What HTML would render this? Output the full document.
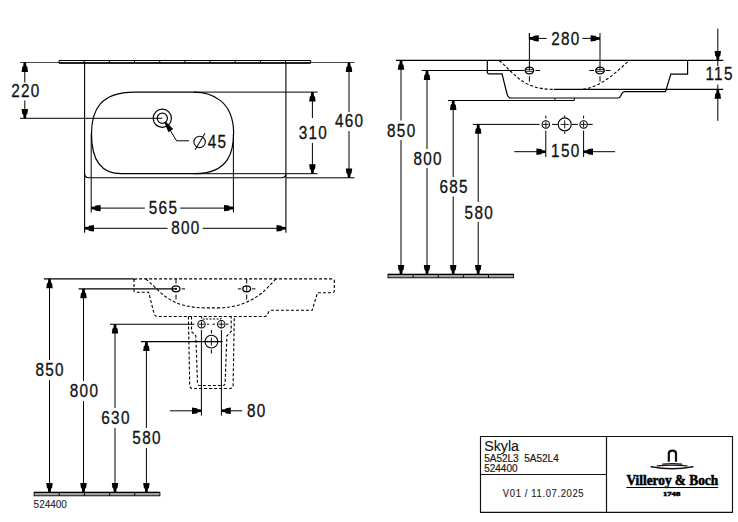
<!DOCTYPE html>
<html><head><meta charset="utf-8"><style>
html,body{margin:0;padding:0;background:#fff;width:738px;height:522px;overflow:hidden}
svg{display:block}
</style></head><body>
<svg width="738" height="522" viewBox="0 0 738 522">
<rect width="738" height="522" fill="#fff"/>
<line x1="20" y1="62.5" x2="59" y2="62.5" stroke="#333" stroke-width="0.9"/>
<line x1="310.7" y1="62.5" x2="354.5" y2="62.5" stroke="#333" stroke-width="0.9"/>
<path d="M59.0,60.5 H310.7 V62.9 H59.0 Z" stroke="#000" stroke-width="1" fill="none"/>
<line x1="59" y1="63" x2="310.7" y2="63" stroke="#000" stroke-width="1.7"/>
<line x1="84.17" y1="60.5" x2="84.17" y2="63" stroke="#000" stroke-width="1"/>
<line x1="109.34" y1="60.5" x2="109.34" y2="63" stroke="#000" stroke-width="1"/>
<line x1="134.51" y1="60.5" x2="134.51" y2="63" stroke="#000" stroke-width="1"/>
<line x1="159.68" y1="60.5" x2="159.68" y2="63" stroke="#000" stroke-width="1"/>
<line x1="184.85" y1="60.5" x2="184.85" y2="63" stroke="#000" stroke-width="1"/>
<line x1="210.02" y1="60.5" x2="210.02" y2="63" stroke="#000" stroke-width="1"/>
<line x1="235.19" y1="60.5" x2="235.19" y2="63" stroke="#000" stroke-width="1"/>
<line x1="260.36" y1="60.5" x2="260.36" y2="63" stroke="#000" stroke-width="1"/>
<line x1="285.53" y1="60.5" x2="285.53" y2="63" stroke="#000" stroke-width="1"/>
<line x1="84.6" y1="63" x2="84.6" y2="232.8" stroke="#000" stroke-width="1.1"/>
<line x1="285.9" y1="63" x2="285.9" y2="232.8" stroke="#000" stroke-width="1.1"/>
<path d="M84.6,173.5 Q84.6,177.8 89,177.8 H281.5 Q285.9,177.8 285.9,173.5" stroke="#000" stroke-width="1.1" fill="none"/>
<line x1="285.9" y1="177.8" x2="354.5" y2="177.8" stroke="#000" stroke-width="1"/>
<path d="M134.5,92.1 H193.6 C212.0,92.1 233.6,101.11999999999999 233.6,133.1 V132.7 C233.6,149.1 230.48,173.7 194.6,173.7 H121.5 C98.1,173.7 91.5,156.32 91.5,134.2 V133.6 C91.5,110.35999999999999 100.1,92.1 134.5,92.1 Z" stroke="#000" stroke-width="1.2" fill="none"/>
<line x1="193.6" y1="92.1" x2="317.6" y2="92.1" stroke="#000" stroke-width="1"/>
<line x1="193.6" y1="173.7" x2="317.6" y2="173.7" stroke="#000" stroke-width="1"/>
<line x1="91.2" y1="134" x2="91.2" y2="212.6" stroke="#000" stroke-width="1"/>
<line x1="233.4" y1="134" x2="233.4" y2="212.6" stroke="#000" stroke-width="1"/>
<path d="M171.4,118.3 A9.1,9.1 0 1 1 153.20000000000002,118.3 A9.1,9.1 0 1 1 171.4,118.3" stroke="#000" stroke-width="1.2" fill="none"/>
<path d="M167.4,118.3 A5.1,5.1 0 1 1 157.20000000000002,118.3 A5.1,5.1 0 1 1 167.4,118.3" stroke="#000" stroke-width="1.2" fill="none"/>
<line x1="20" y1="118.3" x2="162.3" y2="118.3" stroke="#000" stroke-width="1"/>
<line x1="24.8" y1="62.5" x2="24.8" y2="82.5" stroke="#000" stroke-width="1"/>
<line x1="24.8" y1="100.5" x2="24.8" y2="118.3" stroke="#000" stroke-width="1"/>
<polygon points="23.55,62.5 23.25,66.1 22.2,67.1 21.6,71.9 28,71.9 27.4,67.1 26.35,66.1 26.05,62.5" fill="#000"/>
<polygon points="23.55,118.3 23.25,114.7 22.2,113.7 21.6,108.9 28,108.9 27.4,113.7 26.35,114.7 26.05,118.3" fill="#000"/>
<text x="25.9" y="96.8" font-size="17.6" text-anchor="middle" font-family="Liberation Sans" font-weight="normal" fill="#111" stroke="#111" stroke-width="0.3" letter-spacing="1.5" transform="translate(25.9,0) scale(0.87,1) translate(-25.9,0)">220</text>
<path d="M170,130 L176.6,140.8 H189" stroke="#000" stroke-width="1" fill="none"/>
<polygon points="164.3,122.2 165.6,121.4 173.2,128.9 168.4,132.3" fill="#000"/>
<circle cx="199.6" cy="141.9" r="5.7" stroke="#111" stroke-width="1.15" fill="none"/>
<line x1="195.2" y1="149.7" x2="205" y2="133.3" stroke="#111" stroke-width="1.1"/>
<text x="217.55" y="147.7" font-size="17.6" text-anchor="middle" font-family="Liberation Sans" font-weight="normal" fill="#111" stroke="#111" stroke-width="0.3" letter-spacing="1.5" transform="translate(217.55,0) scale(0.87,1) translate(-217.55,0)">45</text>
<line x1="312.4" y1="92.1" x2="312.4" y2="118" stroke="#000" stroke-width="1"/>
<line x1="312.4" y1="143" x2="312.4" y2="173.7" stroke="#000" stroke-width="1"/>
<polygon points="311.15,92.1 310.85,95.7 309.8,96.7 309.2,101.5 315.6,101.5 315,96.7 313.95,95.7 313.65,92.1" fill="#000"/>
<polygon points="311.15,173.7 310.85,170.1 309.8,169.1 309.2,164.3 315.6,164.3 315,169.1 313.95,170.1 313.65,173.7" fill="#000"/>
<text x="313.45" y="138.8" font-size="17.6" text-anchor="middle" font-family="Liberation Sans" font-weight="normal" fill="#111" stroke="#111" stroke-width="0.3" letter-spacing="1.5" transform="translate(313.45,0) scale(0.87,1) translate(-313.45,0)">310</text>
<line x1="349" y1="62.5" x2="349" y2="112" stroke="#000" stroke-width="1"/>
<line x1="349" y1="131" x2="349" y2="177.8" stroke="#000" stroke-width="1"/>
<polygon points="347.75,62.5 347.45,66.1 346.4,67.1 345.8,71.9 352.2,71.9 351.6,67.1 350.55,66.1 350.25,62.5" fill="#000"/>
<polygon points="347.75,177.8 347.45,174.2 346.4,173.2 345.8,168.4 352.2,168.4 351.6,173.2 350.55,174.2 350.25,177.8" fill="#000"/>
<text x="349.65" y="126.7" font-size="17.6" text-anchor="middle" font-family="Liberation Sans" font-weight="normal" fill="#111" stroke="#111" stroke-width="0.3" letter-spacing="1.5" transform="translate(349.65,0) scale(0.87,1) translate(-349.65,0)">460</text>
<line x1="91.2" y1="208.1" x2="144.8" y2="208.1" stroke="#000" stroke-width="1"/>
<line x1="180.2" y1="208.1" x2="233.4" y2="208.1" stroke="#000" stroke-width="1"/>
<polygon points="91.2,206.85 94.8,206.55 95.8,205.5 100.6,204.9 100.6,211.3 95.8,210.7 94.8,209.65 91.2,209.35" fill="#000"/>
<polygon points="233.4,206.85 229.8,206.55 228.8,205.5 224,204.9 224,211.3 228.8,210.7 229.8,209.65 233.4,209.35" fill="#000"/>
<text x="163.5" y="213.7" font-size="17.6" text-anchor="middle" font-family="Liberation Sans" font-weight="normal" fill="#111" stroke="#111" stroke-width="0.3" letter-spacing="1.5" transform="translate(163.5,0) scale(0.87,1) translate(-163.5,0)">565</text>
<line x1="84.6" y1="228.3" x2="167.6" y2="228.3" stroke="#000" stroke-width="1"/>
<line x1="202.6" y1="228.3" x2="285.9" y2="228.3" stroke="#000" stroke-width="1"/>
<polygon points="84.6,227.05 88.2,226.75 89.2,225.7 94,225.1 94,231.5 89.2,230.9 88.2,229.85 84.6,229.55" fill="#000"/>
<polygon points="285.9,227.05 282.3,226.75 281.3,225.7 276.5,225.1 276.5,231.5 281.3,230.9 282.3,229.85 285.9,229.55" fill="#000"/>
<text x="185.9" y="234.5" font-size="17.6" text-anchor="middle" font-family="Liberation Sans" font-weight="normal" fill="#111" stroke="#111" stroke-width="0.3" letter-spacing="1.5" transform="translate(185.9,0) scale(0.87,1) translate(-185.9,0)">800</text>
<line x1="395.9" y1="60.4" x2="723.2" y2="60.4" stroke="#000" stroke-width="1.1"/>
<line x1="421.7" y1="70.5" x2="524.2" y2="70.5" stroke="#000" stroke-width="1"/>
<line x1="535.5" y1="70.5" x2="540" y2="70.5" stroke="#000" stroke-width="1"/>
<line x1="529.4" y1="33" x2="529.4" y2="70.5" stroke="#000" stroke-width="1"/>
<line x1="529.4" y1="76.2" x2="529.4" y2="81.7" stroke="#000" stroke-width="1"/>
<ellipse cx="529.4" cy="70.5" rx="4.2" ry="3.35" stroke="#000" stroke-width="1.4" fill="none"/>
<line x1="525.2" y1="69.6" x2="533.6" y2="69.6" stroke="#000" stroke-width="0.8"/>
<line x1="525.2" y1="71.4" x2="533.6" y2="71.4" stroke="#000" stroke-width="0.8"/>
<line x1="600" y1="33" x2="600" y2="70.5" stroke="#000" stroke-width="1"/>
<line x1="600" y1="76.2" x2="600" y2="81.7" stroke="#000" stroke-width="1"/>
<ellipse cx="600" cy="70.5" rx="4.2" ry="3.35" stroke="#000" stroke-width="1.4" fill="none"/>
<line x1="595.8" y1="69.6" x2="604.2" y2="69.6" stroke="#000" stroke-width="0.8"/>
<line x1="595.8" y1="71.4" x2="604.2" y2="71.4" stroke="#000" stroke-width="0.8"/>
<line x1="589.3" y1="70.5" x2="594" y2="70.5" stroke="#000" stroke-width="1"/>
<line x1="605.7" y1="70.5" x2="610.6" y2="70.5" stroke="#000" stroke-width="1"/>
<path d="M487.3,60.4 V72 Q487.3,73.8 489.3,73.8 H502 L507.3,95 Q508.3,98 511,98 H618 Q619.8,98 620.8,95.8 L622,93.4 Q623,91.7 625,91.7 H665.5 L670.8,74.2 H687.6 V60.4" stroke="#000" stroke-width="1.2" fill="none"/>
<line x1="447.9" y1="100.5" x2="574.3" y2="100.5" stroke="#000" stroke-width="1.1"/>
<line x1="554.9" y1="98" x2="554.9" y2="100.5" stroke="#000" stroke-width="1"/>
<line x1="574.3" y1="98" x2="574.3" y2="100.5" stroke="#000" stroke-width="1"/>
<path d="M499.2,60.5 C514,72.5 521.5,89.4 554,89.4" stroke="#000" stroke-width="1.1" fill="none" stroke-dasharray="3,2"/>
<path d="M583,89.2 C604,87 623,65 629.5,60.4" stroke="#000" stroke-width="1.1" fill="none" stroke-dasharray="3,2"/>
<line x1="553.8" y1="89.4" x2="723.2" y2="89.4" stroke="#000" stroke-width="1.1"/>
<line x1="529.4" y1="33" x2="529.4" y2="40" stroke="#000" stroke-width="1"/>
<line x1="529.4" y1="38.4" x2="546.6" y2="38.4" stroke="#000" stroke-width="1"/>
<line x1="582.4" y1="38.4" x2="600" y2="38.4" stroke="#000" stroke-width="1"/>
<polygon points="529.4,37.15 533,36.85 534,35.8 538.8,35.2 538.8,41.6 534,41 533,39.95 529.4,39.65" fill="#000"/>
<polygon points="600,37.15 596.4,36.85 595.4,35.8 590.6,35.2 590.6,41.6 595.4,41 596.4,39.95 600,39.65" fill="#000"/>
<text x="565.95" y="44.7" font-size="17.6" text-anchor="middle" font-family="Liberation Sans" font-weight="normal" fill="#111" stroke="#111" stroke-width="0.3" letter-spacing="1.5" transform="translate(565.95,0) scale(0.87,1) translate(-565.95,0)">280</text>
<line x1="717.8" y1="28.7" x2="717.8" y2="60.4" stroke="#000" stroke-width="1"/>
<polygon points="716.55,60.4 716.25,56.8 715.2,55.8 714.6,51 721,51 720.4,55.8 719.35,56.8 719.05,60.4" fill="#000"/>
<line x1="717.8" y1="89.4" x2="717.8" y2="120.8" stroke="#000" stroke-width="1"/>
<polygon points="716.55,89.4 716.25,93 715.2,94 714.6,98.8 721,98.8 720.4,94 719.35,93 719.05,89.4" fill="#000"/>
<line x1="717.8" y1="60.4" x2="717.8" y2="66" stroke="#000" stroke-width="1"/>
<line x1="717.8" y1="84.6" x2="717.8" y2="89.4" stroke="#000" stroke-width="1"/>
<text x="719.6" y="80.2" font-size="17.6" text-anchor="middle" font-family="Liberation Sans" font-weight="normal" fill="#111" stroke="#111" stroke-width="0.3" letter-spacing="1.5" transform="translate(719.6,0) scale(0.87,1) translate(-719.6,0)">115</text>
<line x1="401" y1="60.4" x2="401" y2="120.5" stroke="#000" stroke-width="1"/>
<line x1="401" y1="140" x2="401" y2="274.3" stroke="#000" stroke-width="1"/>
<polygon points="399.75,60.4 399.45,64 398.4,65 397.8,69.8 404.2,69.8 403.6,65 402.55,64 402.25,60.4" fill="#000"/>
<polygon points="399.75,274.3 399.45,270.7 398.4,269.7 397.8,264.9 404.2,264.9 403.6,269.7 402.55,270.7 402.25,274.3" fill="#000"/>
<text x="401.75" y="136.8" font-size="17.6" text-anchor="middle" font-family="Liberation Sans" font-weight="normal" fill="#111" stroke="#111" stroke-width="0.3" letter-spacing="1.5" transform="translate(401.75,0) scale(0.87,1) translate(-401.75,0)">850</text>
<line x1="427" y1="70.5" x2="427" y2="149" stroke="#000" stroke-width="1"/>
<line x1="427" y1="168" x2="427" y2="274.3" stroke="#000" stroke-width="1"/>
<polygon points="425.75,70.5 425.45,74.1 424.4,75.1 423.8,79.9 430.2,79.9 429.6,75.1 428.55,74.1 428.25,70.5" fill="#000"/>
<polygon points="425.75,274.3 425.45,270.7 424.4,269.7 423.8,264.9 430.2,264.9 429.6,269.7 428.55,270.7 428.25,274.3" fill="#000"/>
<text x="428.15" y="164.9" font-size="17.6" text-anchor="middle" font-family="Liberation Sans" font-weight="normal" fill="#111" stroke="#111" stroke-width="0.3" letter-spacing="1.5" transform="translate(428.15,0) scale(0.87,1) translate(-428.15,0)">800</text>
<line x1="453.2" y1="100.5" x2="453.2" y2="177" stroke="#000" stroke-width="1"/>
<line x1="453.2" y1="196.5" x2="453.2" y2="274.3" stroke="#000" stroke-width="1"/>
<polygon points="451.95,100.5 451.65,104.1 450.6,105.1 450,109.9 456.4,109.9 455.8,105.1 454.75,104.1 454.45,100.5" fill="#000"/>
<polygon points="451.95,274.3 451.65,270.7 450.6,269.7 450,264.9 456.4,264.9 455.8,269.7 454.75,270.7 454.45,274.3" fill="#000"/>
<text x="454.15" y="193" font-size="17.6" text-anchor="middle" font-family="Liberation Sans" font-weight="normal" fill="#111" stroke="#111" stroke-width="0.3" letter-spacing="1.5" transform="translate(454.15,0) scale(0.87,1) translate(-454.15,0)">685</text>
<line x1="478.2" y1="124.4" x2="478.2" y2="202" stroke="#000" stroke-width="1"/>
<line x1="478.2" y1="222" x2="478.2" y2="274.3" stroke="#000" stroke-width="1"/>
<polygon points="476.95,124.4 476.65,128 475.6,129 475,133.8 481.4,133.8 480.8,129 479.75,128 479.45,124.4" fill="#000"/>
<polygon points="476.95,274.3 476.65,270.7 475.6,269.7 475,264.9 481.4,264.9 480.8,269.7 479.75,270.7 479.45,274.3" fill="#000"/>
<text x="479.35" y="218.6" font-size="17.6" text-anchor="middle" font-family="Liberation Sans" font-weight="normal" fill="#111" stroke="#111" stroke-width="0.3" letter-spacing="1.5" transform="translate(479.35,0) scale(0.87,1) translate(-479.35,0)">580</text>
<rect x="388" y="274.4" width="125.6" height="3.4" fill="#a0a0a0" stroke="#000" stroke-width="0.9"/>
<line x1="388" y1="274.4" x2="513.6" y2="274.4" stroke="#000" stroke-width="1.2"/>
<line x1="413.12" y1="274.4" x2="413.12" y2="277.8" stroke="#000" stroke-width="1"/>
<line x1="438.24" y1="274.4" x2="438.24" y2="277.8" stroke="#000" stroke-width="1"/>
<line x1="463.36" y1="274.4" x2="463.36" y2="277.8" stroke="#000" stroke-width="1"/>
<line x1="488.48" y1="274.4" x2="488.48" y2="277.8" stroke="#000" stroke-width="1"/>
<line x1="472.8" y1="124.4" x2="539.6" y2="124.4" stroke="#000" stroke-width="1"/>
<circle cx="545.8" cy="124.4" r="3.7" stroke="#000" stroke-width="1.1" fill="none"/>
<line x1="543.1" y1="124.4" x2="548.5" y2="124.4" stroke="#000" stroke-width="0.9"/>
<line x1="545.8" y1="121.7" x2="545.8" y2="127.1" stroke="#000" stroke-width="0.9"/>
<circle cx="583.6" cy="124.4" r="3.7" stroke="#000" stroke-width="1.1" fill="none"/>
<line x1="580.9" y1="124.4" x2="586.3" y2="124.4" stroke="#000" stroke-width="0.9"/>
<line x1="583.6" y1="121.7" x2="583.6" y2="127.1" stroke="#000" stroke-width="0.9"/>
<circle cx="564.7" cy="124.4" r="6.5" stroke="#000" stroke-width="1.1" fill="none"/>
<line x1="560.67" y1="124.4" x2="568.73" y2="124.4" stroke="#000" stroke-width="0.9"/>
<line x1="564.7" y1="120.37" x2="564.7" y2="128.43" stroke="#000" stroke-width="0.9"/>
<line x1="552" y1="124.4" x2="557.8" y2="124.4" stroke="#000" stroke-width="1"/>
<line x1="571.7" y1="124.4" x2="577.9" y2="124.4" stroke="#000" stroke-width="1"/>
<line x1="587.5" y1="124.4" x2="592.7" y2="124.4" stroke="#000" stroke-width="1"/>
<line x1="545.8" y1="115.7" x2="545.8" y2="118.5" stroke="#000" stroke-width="1"/>
<line x1="583.6" y1="115.7" x2="583.6" y2="118.5" stroke="#000" stroke-width="1"/>
<line x1="564.7" y1="115.5" x2="564.7" y2="117.5" stroke="#000" stroke-width="1"/>
<line x1="564.7" y1="131.5" x2="564.7" y2="133.8" stroke="#000" stroke-width="1"/>
<line x1="545.8" y1="130.6" x2="545.8" y2="157" stroke="#000" stroke-width="1"/>
<line x1="583.6" y1="130.6" x2="583.6" y2="157" stroke="#000" stroke-width="1"/>
<line x1="514.2" y1="151.7" x2="545.8" y2="151.7" stroke="#000" stroke-width="1"/>
<line x1="583.6" y1="151.7" x2="615.1" y2="151.7" stroke="#000" stroke-width="1"/>
<polygon points="545.8,150.45 542.2,150.15 541.2,149.1 536.4,148.5 536.4,154.9 541.2,154.3 542.2,153.25 545.8,152.95" fill="#000"/>
<polygon points="583.6,150.45 587.2,150.15 588.2,149.1 593,148.5 593,154.9 588.2,154.3 587.2,153.25 583.6,152.95" fill="#000"/>
<text x="565.85" y="157.4" font-size="17.6" text-anchor="middle" font-family="Liberation Sans" font-weight="normal" fill="#111" stroke="#111" stroke-width="0.3" letter-spacing="1.5" transform="translate(565.85,0) scale(0.87,1) translate(-565.85,0)">150</text>
<g transform="translate(-353.3,218.5)">
<path d="M487.3,60.4 V72 Q487.3,73.8 489.3,73.8 H502 L507.3,95 Q508.3,98 511,98 H618 Q619.8,98 620.8,95.8 L622,93.4 Q623,91.7 625,91.7 H665.5 L670.8,74.2 H685.6 Q687.6,74.2 687.6,72.2 V62.4 Q687.6,60.4 685.6,60.4 H489.3 Q487.3,60.4 487.3,62.4" stroke="#000" stroke-width="1.1" fill="none" stroke-dasharray="3,2"/>
<path d="M499.2,60.5 C514,72.5 521.5,89.4 560,89.4 H570 C610,89.4 623,65 629.5,60.4" stroke="#000" stroke-width="1.1" fill="none" stroke-dasharray="3,2"/>
<path d="M554.9,98 V100.5 H574.3 V98" stroke="#000" stroke-width="1" fill="none" stroke-dasharray="2,1.5"/>
</g>
<line x1="43.9" y1="278.9" x2="134" y2="278.9" stroke="#000" stroke-width="1.1"/>
<line x1="78.6" y1="288.9" x2="176" y2="288.9" stroke="#000" stroke-width="1.1"/>
<line x1="176" y1="279" x2="176" y2="283.5" stroke="#000" stroke-width="1"/>
<line x1="176" y1="294.5" x2="176" y2="299.5" stroke="#000" stroke-width="1"/>
<ellipse cx="176" cy="288.8" rx="3.9" ry="3.0" stroke="#000" stroke-width="1.3" fill="none"/>
<circle cx="176" cy="288.8" r="1.1" fill="#000"/>
<line x1="246.7" y1="279" x2="246.7" y2="283.5" stroke="#000" stroke-width="1"/>
<line x1="246.7" y1="294.5" x2="246.7" y2="299.5" stroke="#000" stroke-width="1"/>
<ellipse cx="246.7" cy="288.8" rx="3.9" ry="3.0" stroke="#000" stroke-width="1.3" fill="none"/>
<line x1="246.7" y1="285.8" x2="246.7" y2="291.8" stroke="#000" stroke-width="0.9"/>
<line x1="181.7" y1="288.9" x2="185" y2="288.9" stroke="#000" stroke-width="1"/>
<line x1="237.9" y1="288.9" x2="241.3" y2="288.9" stroke="#000" stroke-width="1"/>
<line x1="252" y1="288.9" x2="255.5" y2="288.9" stroke="#000" stroke-width="1"/>
<path d="M188.4,316.6 L189.7,385.5 Q189.9,388.5 192.7,388.5 H230 Q232.9,388.5 233.1,385.5 L234.3,316.6" stroke="#000" stroke-width="1.1" fill="none" stroke-dasharray="3,2"/>
<path d="M191.5,316.6 V331.5 L195.8,335.8 L197.5,383 Q197.6,385.5 200,385.5 H222.6 Q225,385.5 225.1,383 L226.9,335.8 L231.2,331.5 V316.6" stroke="#000" stroke-width="1.1" fill="none" stroke-dasharray="3,2"/>
<line x1="110" y1="324.2" x2="194.4" y2="324.2" stroke="#000" stroke-width="1.1"/>
<line x1="140.9" y1="341.6" x2="222.6" y2="341.6" stroke="#000" stroke-width="1.1"/>
<circle cx="201.5" cy="324.2" r="3.7" stroke="#000" stroke-width="1.1" fill="none"/>
<line x1="198.8" y1="324.2" x2="204.2" y2="324.2" stroke="#000" stroke-width="0.9"/>
<line x1="201.5" y1="321.5" x2="201.5" y2="326.9" stroke="#000" stroke-width="0.9"/>
<circle cx="221.3" cy="324.2" r="3.7" stroke="#000" stroke-width="1.1" fill="none"/>
<line x1="218.6" y1="324.2" x2="224" y2="324.2" stroke="#000" stroke-width="0.9"/>
<line x1="221.3" y1="321.5" x2="221.3" y2="326.9" stroke="#000" stroke-width="0.9"/>
<line x1="207" y1="324.2" x2="209" y2="324.2" stroke="#000" stroke-width="1"/>
<line x1="212.5" y1="324.2" x2="215" y2="324.2" stroke="#000" stroke-width="1"/>
<line x1="226" y1="324.2" x2="228.5" y2="324.2" stroke="#000" stroke-width="1"/>
<circle cx="211.4" cy="341.6" r="6.4" stroke="#000" stroke-width="1.1" fill="none"/>
<line x1="207.43" y1="341.6" x2="215.37" y2="341.6" stroke="#000" stroke-width="0.9"/>
<line x1="211.4" y1="337.63" x2="211.4" y2="345.57" stroke="#000" stroke-width="0.9"/>
<line x1="211.4" y1="330" x2="211.4" y2="333.5" stroke="#000" stroke-width="1"/>
<line x1="211.4" y1="349.5" x2="211.4" y2="353.5" stroke="#000" stroke-width="1"/>
<line x1="201.4" y1="330" x2="201.4" y2="415.7" stroke="#000" stroke-width="1"/>
<line x1="221.4" y1="330" x2="221.4" y2="415.7" stroke="#000" stroke-width="1"/>
<line x1="169.8" y1="410.8" x2="201.4" y2="410.8" stroke="#000" stroke-width="1"/>
<line x1="221.4" y1="410.8" x2="242.2" y2="410.8" stroke="#000" stroke-width="1"/>
<polygon points="201.4,409.55 197.8,409.25 196.8,408.2 192,407.6 192,414 196.8,413.4 197.8,412.35 201.4,412.05" fill="#000"/>
<polygon points="221.4,409.55 225,409.25 226,408.2 230.8,407.6 230.8,414 226,413.4 225,412.35 221.4,412.05" fill="#000"/>
<text x="256.7" y="417.4" font-size="17.6" text-anchor="middle" font-family="Liberation Sans" font-weight="normal" fill="#111" stroke="#111" stroke-width="0.3" letter-spacing="1.5" transform="translate(256.7,0) scale(0.87,1) translate(-256.7,0)">80</text>
<line x1="49.5" y1="278.9" x2="49.5" y2="360" stroke="#000" stroke-width="1"/>
<line x1="49.5" y1="380" x2="49.5" y2="492.4" stroke="#000" stroke-width="1"/>
<polygon points="48.25,278.9 47.95,282.5 46.9,283.5 46.3,288.3 52.7,288.3 52.1,283.5 51.05,282.5 50.75,278.9" fill="#000"/>
<polygon points="48.25,492.4 47.95,488.8 46.9,487.8 46.3,483 52.7,483 52.1,487.8 51.05,488.8 50.75,492.4" fill="#000"/>
<text x="50.2" y="376.1" font-size="17.6" text-anchor="middle" font-family="Liberation Sans" font-weight="normal" fill="#111" stroke="#111" stroke-width="0.3" letter-spacing="1.5" transform="translate(50.2,0) scale(0.87,1) translate(-50.2,0)">850</text>
<line x1="83.5" y1="288.9" x2="83.5" y2="381" stroke="#000" stroke-width="1"/>
<line x1="83.5" y1="401" x2="83.5" y2="492.4" stroke="#000" stroke-width="1"/>
<polygon points="82.25,288.9 81.95,292.5 80.9,293.5 80.3,298.3 86.7,298.3 86.1,293.5 85.05,292.5 84.75,288.9" fill="#000"/>
<polygon points="82.25,492.4 81.95,488.8 80.9,487.8 80.3,483 86.7,483 86.1,487.8 85.05,488.8 84.75,492.4" fill="#000"/>
<text x="84.5" y="397.3" font-size="17.6" text-anchor="middle" font-family="Liberation Sans" font-weight="normal" fill="#111" stroke="#111" stroke-width="0.3" letter-spacing="1.5" transform="translate(84.5,0) scale(0.87,1) translate(-84.5,0)">800</text>
<line x1="115" y1="324.2" x2="115" y2="408" stroke="#000" stroke-width="1"/>
<line x1="115" y1="428" x2="115" y2="492.4" stroke="#000" stroke-width="1"/>
<polygon points="113.75,324.2 113.45,327.8 112.4,328.8 111.8,333.6 118.2,333.6 117.6,328.8 116.55,327.8 116.25,324.2" fill="#000"/>
<polygon points="113.75,492.4 113.45,488.8 112.4,487.8 111.8,483 118.2,483 117.6,487.8 116.55,488.8 116.25,492.4" fill="#000"/>
<text x="116" y="424.2" font-size="17.6" text-anchor="middle" font-family="Liberation Sans" font-weight="normal" fill="#111" stroke="#111" stroke-width="0.3" letter-spacing="1.5" transform="translate(116,0) scale(0.87,1) translate(-116,0)">630</text>
<line x1="146.4" y1="341.6" x2="146.4" y2="428" stroke="#000" stroke-width="1"/>
<line x1="146.4" y1="448" x2="146.4" y2="492.4" stroke="#000" stroke-width="1"/>
<polygon points="145.15,341.6 144.85,345.2 143.8,346.2 143.2,351 149.6,351 149,346.2 147.95,345.2 147.65,341.6" fill="#000"/>
<polygon points="145.15,492.4 144.85,488.8 143.8,487.8 143.2,483 149.6,483 149,487.8 147.95,488.8 147.65,492.4" fill="#000"/>
<text x="147.1" y="444.1" font-size="17.6" text-anchor="middle" font-family="Liberation Sans" font-weight="normal" fill="#111" stroke="#111" stroke-width="0.3" letter-spacing="1.5" transform="translate(147.1,0) scale(0.87,1) translate(-147.1,0)">580</text>
<rect x="34.1" y="492.4" width="125.8" height="3.4" fill="#a0a0a0" stroke="#000" stroke-width="0.9"/>
<line x1="34.1" y1="492.4" x2="159.9" y2="492.4" stroke="#000" stroke-width="1.2"/>
<line x1="59.26" y1="492.4" x2="59.26" y2="495.8" stroke="#000" stroke-width="1"/>
<line x1="84.42" y1="492.4" x2="84.42" y2="495.8" stroke="#000" stroke-width="1"/>
<line x1="109.58" y1="492.4" x2="109.58" y2="495.8" stroke="#000" stroke-width="1"/>
<line x1="134.74" y1="492.4" x2="134.74" y2="495.8" stroke="#000" stroke-width="1"/>
<text x="33.6" y="508.1" font-size="10.5" text-anchor="start" font-family="Liberation Sans" font-weight="normal" fill="#222" stroke="#222" stroke-width="0.1" transform="translate(33.6,0) scale(0.95,1) translate(-33.6,0)">524400</text>
<path d="M480.5,436.5 H732.5 V512.3 H480.5 Z" stroke="#111" stroke-width="1.15" fill="none"/>
<line x1="606.5" y1="436.5" x2="606.5" y2="512.3" stroke="#111" stroke-width="1.2"/>
<line x1="480.5" y1="474.5" x2="606.5" y2="474.5" stroke="#111" stroke-width="1.2"/>
<text x="484.2" y="451.4" font-size="15" text-anchor="start" font-family="Liberation Sans" font-weight="normal" fill="#111" stroke="#111" stroke-width="0.1" transform="translate(484.2,0) scale(0.95,1) translate(-484.2,0)">Skyla</text>
<text x="484.2" y="461.9" font-size="10" text-anchor="start" font-family="Liberation Sans" font-weight="normal" fill="#1a1a1a" stroke="#1a1a1a" stroke-width="0.2">5A52L3&#160;&#160;5A52L4</text>
<text x="484.2" y="471.7" font-size="10" text-anchor="start" font-family="Liberation Sans" font-weight="normal" fill="#1a1a1a" stroke="#1a1a1a" stroke-width="0.2">524400</text>
<text x="543.55" y="497.4" font-size="10.8" text-anchor="middle" font-family="Liberation Sans" font-weight="normal" fill="#222" stroke="#222" stroke-width="0.12" letter-spacing="0.7" transform="translate(543.55,0) scale(0.88,1) translate(-543.55,0)">V01 / 11.07.2025</text>
<path d="M668.8,461.8 V453.5 C668.8,449.6 676,449.6 676,453.5 V461.8" stroke="#111" stroke-width="2.2" fill="none"/>
<path d="M662.8,464.1 Q672.4,463 681.8,464.1" stroke="#111" stroke-width="1.3" fill="none" stroke-linecap="round"/>
<path d="M657.4,465.9 Q672.4,464.5 687,465.9" stroke="#111" stroke-width="1.2" fill="none" stroke-linecap="round"/>
<path d="M651.2,466.8 Q672.2,470.7 692.8,466.8" stroke="#111" stroke-width="1.6" fill="none" stroke-linecap="round"/>
<text x="672.3" y="485" font-size="13.8" text-anchor="middle" font-family="Liberation Serif" font-weight="bold" fill="#000" stroke="#000" stroke-width="0.55" textLength="91.8" lengthAdjust="spacingAndGlyphs">Villeroy &amp; Boch</text>
<line x1="626.4" y1="487.5" x2="718.2" y2="487.5" stroke="#000" stroke-width="1.15"/>
<text x="671.6" y="495.6" font-size="5.8" text-anchor="middle" font-family="Liberation Serif" font-weight="bold" fill="#000" stroke="#000" stroke-width="0.5" transform="translate(671.6,0) scale(1.5,1) translate(-671.6,0)">1748</text>
</svg>
</body></html>
